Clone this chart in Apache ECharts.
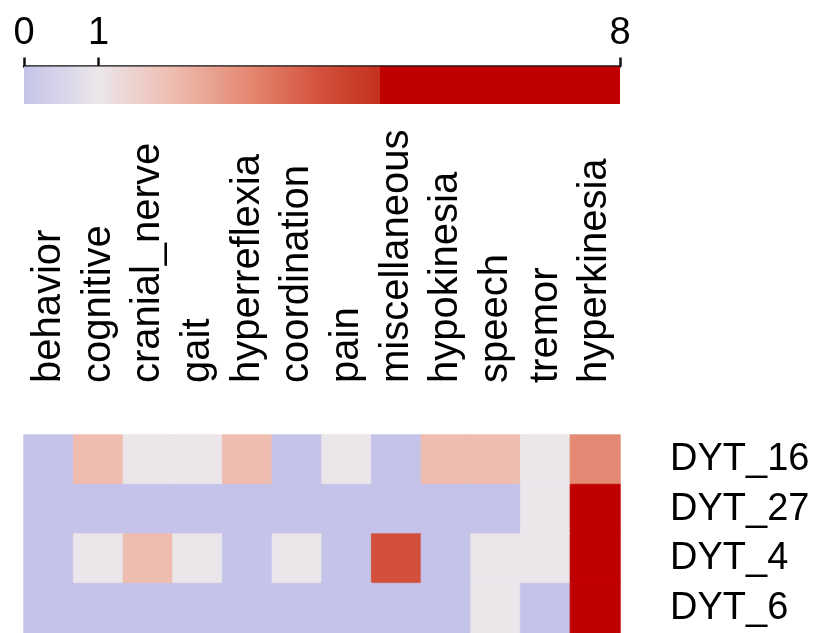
<!DOCTYPE html>
<html>
<head>
<meta charset="utf-8">
<script src="https://cdn.jsdelivr.net/npm/echarts@6/dist/echarts.min.js"></script>
<style>
html,body{margin:0;padding:0;background:#fff;}
#chart{width:818px;height:633px;}
</style>
</head>
<body>
<div id="chart"></div>
<script>
const features = ['behavior','cognitive','cranial_nerve','gait','hyperreflexia','coordination','pain','miscellaneous','hypokinesia','speech','tremor','hyperkinesia'];
const genes = ['DYT_16','DYT_27','DYT_4','DYT_6'];
const dyt16 = [0,2,1,1,2,0,1,0,2,2,1,3];
const dyt27 = [0,0,0,0,0,0,0,0,0,0,1,8];
const dyt4  = [0,1,2,1,0,1,0,4,0,1,1,6];
const dyt6  = [0,0,0,0,0,0,0,0,0,1,0,5];
const scaleTicks = [0,1,8];
const scaleStopValues = [0, 1, 2, 3, 4, 4.78, 4.78, 8];
const scaleStopColors = ['#c5c3e9','#ebe6ea','#efbcb0','#e48a74','#d2503b','#c3301e','#c00000','#c00000'];

function hex2rgb(h){return [parseInt(h.slice(1,3),16),parseInt(h.slice(3,5),16),parseInt(h.slice(5,7),16)];}
function colorAt(v){
  for (let i = scaleStopValues.length - 1; i >= 0; i--) {
    if (v >= scaleStopValues[i]) {
      if (i === scaleStopValues.length - 1 || scaleStopValues[i+1] === scaleStopValues[i]) return scaleStopColors[i];
      const t = (v - scaleStopValues[i]) / (scaleStopValues[i+1] - scaleStopValues[i]);
      const a = hex2rgb(scaleStopColors[i]), b = hex2rgb(scaleStopColors[i+1]);
      return 'rgb(' + a.map((c, k) => Math.round(c + (b[k]-c)*t)).join(',') + ')';
    }
  }
  return scaleStopColors[0];
}

const rows = [dyt16, dyt27, dyt4, dyt6];
const data = [];
rows.forEach((r, yi) => r.forEach((v, xi) => data.push({
  value: [xi, yi, v],
  itemStyle: {borderColor: colorAt(v), borderWidth: 0.8}
})));

const vmin = 0, vmax = 8;
const vmColors = [];
for (let v = vmin; v <= vmax; v++) vmColors.push(colorAt(v));
const gradStops = scaleStopValues.map((v, i) => ({offset: (v - vmin) / (vmax - vmin), color: scaleStopColors[i]}));

const FONT = '"Liberation Sans", Arial, Helvetica, sans-serif';
const chart = echarts.init(document.getElementById('chart'), null, {renderer: 'canvas'});
chart.setOption({
  animation: false,
  backgroundColor: '#fff',
  textStyle: {fontFamily: FONT},
  grid: [
    {left: 24, top: 435, width: 596, height: 198},
    {left: 24, top: 66.5, width: 596, height: 37.5}
  ],
  xAxis: [
    {
      type: 'category', gridIndex: 0, data: features, position: 'top',
      axisLine: {show: false}, axisTick: {show: false}, splitLine: {show: false},
      axisLabel: {rotate: -90, interval: 0, fontSize: 40, color: '#000', margin: 52, padding: [10, 0, 0, 0], fontFamily: FONT}
    },
    {
      type: 'value', gridIndex: 1, min: vmin, max: vmax, position: 'top',
      axisLine: {show: true, lineStyle: {color: '#111', width: 2.5}},
      axisTick: {show: true, customValues: scaleTicks, length: 9, lineStyle: {color: '#111', width: 2.5}},
      axisLabel: {show: true, customValues: scaleTicks, fontSize: 38, color: '#000', margin: 14, fontFamily: FONT},
      splitLine: {show: false}
    }
  ],
  yAxis: [
    {
      type: 'category', gridIndex: 0, data: genes, position: 'right', inverse: true,
      axisLine: {show: false}, axisTick: {show: false}, splitLine: {show: false},
      axisLabel: {fontSize: 38, color: '#000', margin: 50, fontFamily: FONT}
    },
    {
      type: 'category', gridIndex: 1, data: ['scale'], show: false
    }
  ],
  visualMap: {
    show: false, type: 'continuous', min: vmin, max: vmax, seriesIndex: 0, dimension: 2,
    inRange: {color: vmColors}
  },
  series: [
    {
      type: 'heatmap', xAxisIndex: 0, yAxisIndex: 0, data: data,
      emphasis: {disabled: true}
    },
    {
      type: 'bar', xAxisIndex: 1, yAxisIndex: 1, data: [vmax], barWidth: '100%',
      itemStyle: {color: new echarts.graphic.LinearGradient(0, 0, 1, 0, gradStops)},
      silent: true
    }
  ]
});
</script>
</body>
</html>
